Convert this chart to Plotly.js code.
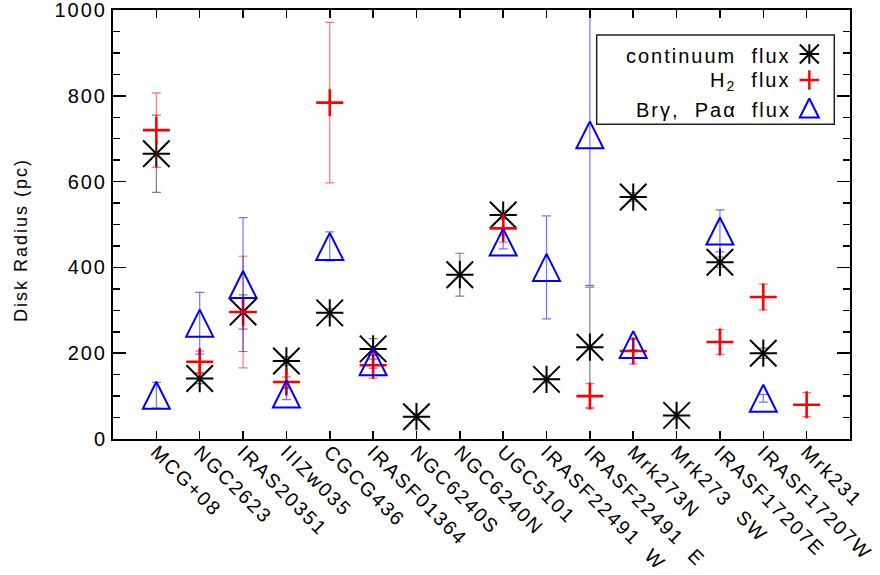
<!DOCTYPE html>
<html>
<head>
<meta charset="utf-8">
<script src="https://cdn.plot.ly/plotly-3.0.1.min.js"></script>
<style>
  html, body { margin: 0; padding: 0; background: #fff; }
  #chart { width: 880px; height: 575px; }
  svg text { letter-spacing: 2px; }
</style>
</head>
<body>
<div id="chart"></div>
<script>
// Galaxies (nuclei) along the x axis
const galaxies = ['MCG+08', 'NGC2623', 'IRAS20351', 'IIIZw035', 'CGCG436', 'IRASF01364',
  'NGC6240S', 'NGC6240N', 'UGC5101', 'IRASF22491 W', 'IRASF22491 E', 'Mrk273N',
  'Mrk273 SW', 'IRASF17207E', 'IRASF17207W', 'Mrk231'];
// Displayed tick labels (wide word gap)
const tickLabels = galaxies.map(s => s.replace(' ', '\u00a0\u00a0'));

// Disk radius (pc) from continuum flux
const continuumRadius = [665, 141, 296, 182, 294, 210, 52, 383, 522, 139, 214, 564, 55, 412, 200, null];
const continuumErr    = [90, 12, 40, 10, 10, 24, 8, 50, 10, 8, 140, 10, 8, 12, 12, null];

// Disk radius (pc) from H2 flux
const h2Radius = [720, 180, 296, 133, 784, 172, null, null, 491, null, 100, 205, null, 226, 331, 80];
const h2Err    = [87, 25, 130, 12, 187, 30, null, null, 32, null, 29, 30, null, 29, 30, 28];

// Disk radius (pc) from Br-gamma / Pa-alpha flux
const brRadius = [102, 270, 360, 105, 449, 180, null, null, 459, 400, 709, 220, null, 485, 95, null];
const brErr    = [30, 72, 156, 13, 34, 15, null, null, 16, 120, 351, 12, null, 49, 9, null];

const yTickVals = [0, 200, 400, 600, 800, 1000];

const legendLabels = ['continuum\u00a0 flux', 'H<sub>2</sub>\u00a0 flux', 'Br\u03b3,\u00a0 Pa\u03b1\u00a0 flux'];

const FONT = 'Liberation Sans, Arial, Helvetica, sans-serif';

function errBars(arr, color) {
  return { type: 'data', array: arr, visible: true, color: color, thickness: 1.2, width: 4.5 };
}

// Asterisk = upright cross + diagonal cross (both full size)
const contCross = {
  x: galaxies, y: continuumRadius, type: 'scatter', mode: 'markers',
  marker: { symbol: 'cross-thin-open', size: 19.5, color: 'black', line: { color: 'black', width: 2 } },
  error_y: errBars(continuumErr, 'rgba(0,0,0,0.5)'),
  hoverinfo: 'skip'
};
const contDiag = {
  x: galaxies, y: continuumRadius, type: 'scatter', mode: 'markers',
  marker: { symbol: 'x-thin-open', size: 26.5, color: 'black', line: { color: 'black', width: 2 } },
  hoverinfo: 'skip'
};
const h2Trace = {
  x: galaxies, y: h2Radius, type: 'scatter', mode: 'markers',
  marker: { symbol: 'cross-thin-open', size: 19.3, color: 'red', line: { color: 'red', width: 2.6 } },
  error_y: errBars(h2Err, 'rgba(255,0,0,0.55)'),
  hoverinfo: 'skip'
};
// Isosceles triangle (as wide as tall), centred on the value
const brTrace = {
  x: galaxies, y: brRadius, type: 'scatter', mode: 'markers',
  marker: { symbol: 'arrow-down-open', angle: 180, standoff: 13.5, size: 27,
            color: 'blue', line: { color: 'blue', width: 2 } },
  error_y: errBars(brErr, 'rgba(0,0,255,0.55)'),
  hoverinfo: 'skip'
};

// Legend glyphs (placed in an overlay frame spanning the plot area)
const legX = 0.9448;
const legY = [0.8974, 0.8368, 0.7716];
const legendGlyphs = [
  { x: [legX], y: [legY[0]], xaxis: 'x2', yaxis: 'y2', type: 'scatter', mode: 'markers', hoverinfo: 'skip',
    marker: { symbol: 'cross-thin-open', size: 14, color: 'black', line: { color: 'black', width: 2 } } },
  { x: [legX], y: [legY[0]], xaxis: 'x2', yaxis: 'y2', type: 'scatter', mode: 'markers', hoverinfo: 'skip',
    marker: { symbol: 'x-thin-open', size: 19, color: 'black', line: { color: 'black', width: 2 } } },
  { x: [legX], y: [legY[1]], xaxis: 'x2', yaxis: 'y2', type: 'scatter', mode: 'markers', hoverinfo: 'skip',
    marker: { symbol: 'cross-thin-open', size: 14, color: 'red', line: { color: 'red', width: 2.4 } } },
  { x: [legX], y: [legY[2]], xaxis: 'x2', yaxis: 'y2', type: 'scatter', mode: 'markers', hoverinfo: 'skip',
    marker: { symbol: 'arrow-down-open', angle: 180, standoff: 9.5, size: 19, color: 'blue', line: { color: 'blue', width: 2 } } }
];

const layout = {
  width: 880, height: 575,
  margin: { l: 113, r: 30, t: 10, b: 136 },
  paper_bgcolor: 'white', plot_bgcolor: 'white',
  showlegend: false,
  font: { family: FONT, color: 'black', size: 20 },
  xaxis: {
    type: 'category', categoryorder: 'array', categoryarray: galaxies,
    range: [-1, 16],
    tickmode: 'array', tickvals: galaxies, ticktext: tickLabels,
    tickangle: 45, tickfont: { size: 19.5, family: FONT },
    ticklabelstandoff: -8,
    ticks: 'inside', ticklen: 8, tickwidth: 1.5, tickcolor: 'black',
    showline: true, linewidth: 2, linecolor: 'black', mirror: 'ticks',
    showgrid: false, zeroline: false
  },
  yaxis: {
    range: [0, 1000], tickmode: 'array', tickvals: yTickVals,
    ticklabeloverflow: 'allow',
    ticks: 'inside', ticklen: 13, tickwidth: 1.5, tickcolor: 'black',
    minor: { dtick: 50, ticks: 'inside', ticklen: 7, tickwidth: 1.5, tickcolor: 'black', showgrid: false },
    showline: true, linewidth: 2, linecolor: 'black', mirror: 'ticks',
    showgrid: false, zeroline: false,
    tickfont: { size: 20, family: FONT }
  },
  xaxis2: { overlaying: 'x', anchor: 'y2', range: [0, 1], visible: false, fixedrange: true },
  yaxis2: { overlaying: 'y', anchor: 'x2', range: [0, 1], visible: false, fixedrange: true },
  shapes: [
    { type: 'rect', xref: 'paper', yref: 'paper', x0: 0.6563, x1: 0.9787, y0: 0.7336, y1: 0.9417,
      line: { color: '#222', width: 1.5 }, fillcolor: 'rgba(0,0,0,0)', layer: 'below' }
  ],
  annotations: [
    // y-axis title
    { text: 'Disk Radius (pc)', xref: 'paper', yref: 'paper', x: -0.1248, y: 0.4639,
      textangle: -90, xanchor: 'center', yanchor: 'middle', showarrow: false,
      font: { size: 18, family: FONT, color: 'black' } },
    ...legendLabels.map((t, i) => ({
      text: t, xref: 'paper', yref: 'paper', x: 0.922, y: legY[i] - 0.004,
      xanchor: 'right', yanchor: 'middle', showarrow: false,
      font: { size: 20, family: FONT, color: 'black' }
    }))
  ]
};

Plotly.newPlot('chart', [contCross, contDiag, h2Trace, brTrace, ...legendGlyphs], layout,
  { staticPlot: true, displayModeBar: false });
</script>
</body>
</html>
